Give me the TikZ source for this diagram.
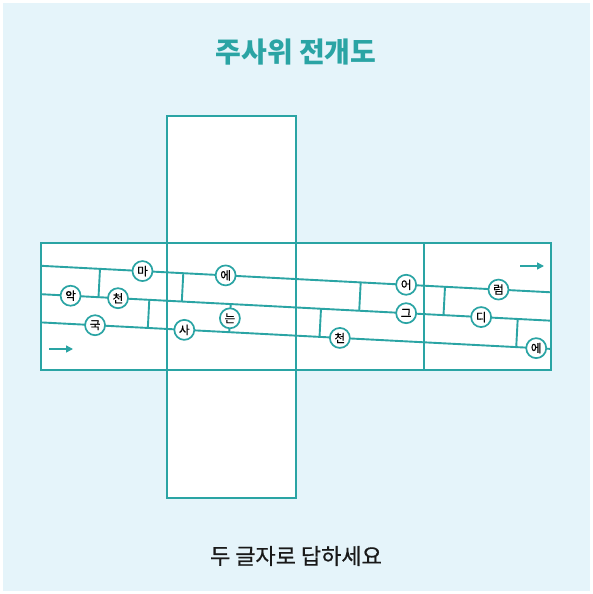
\documentclass[tikz,border=0pt]{standalone}
\usepackage{fontspec}
\newfontfamily\kr{Noto Sans CJK KR}
\newfontfamily\krmid{Noto Sans CJK KR}[FakeBold=0.7]
\usetikzlibrary{arrows.meta}
\definecolor{dicecol}{RGB}{42,164,164}
\definecolor{bgcol}{RGB}{229,244,250}
\tikzset{
  face/.style={draw=dicecol, line width=2pt, fill=white},
  road/.style={draw=dicecol, line width=1.9pt},
  letter/.style={circle, draw=dicecol, line width=1.7pt, fill=white, text=black,
    minimum size=20pt, inner sep=0pt, font=\krmid\fontsize{11.5}{11.5}\selectfont},
  pointer/.style={draw=dicecol, line width=1.5pt, -{Triangle[length=7pt,width=7pt]}}
}
\begin{document}
\begin{tikzpicture}[x=1pt,y=-1pt]
  \fill[white] (0,0) rectangle (593,594);
  \fill[bgcol] (3,3) rectangle (590,591);

  % net of the die
  \draw[face] (167,116) rectangle (296,243);
  \draw[face] (167,370) rectangle (296,498);
  \draw[face] (41,243) rectangle (551,370);
  \foreach \x in {167,296,424}
  {
      \draw[face] (\x,243) -- (\x,370);
  }

  % short walls between the roads
  \foreach \x/\b in {100/265.8,183.3/265.8,360.7/265.8,445/265.8,149.3/294.2,230.7/294.2,321/294.2,517.7/294.2}
  {
      \draw[road] (\x,{\b+0.052*(\x-41)}) -- ++(-1.5,28.5);
  }

  \coordinate (w1) at (41,265.8);
  \coordinate (e1) at (551,292.3);
  \coordinate (w2) at (41,294.2);
  \coordinate (e2) at (551,320.7);
  \coordinate (w3) at (41,322.4);
  \coordinate (e3) at (551,348.9);

  \draw[road] (w1) -- (e1)
    node[letter,pos=.199] (ma) {마}
    node[letter,pos=.362] (e) {에}
    node[letter,pos=.716] (eo) {어}
    node[letter,pos=.897] (reom) {럼};
  \draw[road] (w2) -- (e2)
    node[letter,pos=.058] (ak) {악}
    node[letter,pos=.151] (cheon) {천}
    node[letter,pos=.716] (geu) {그}
    node[letter,pos=.863] (di) {디};
  \draw[road] (w3) -- (e3)
    node[letter,pos=.106] (guk) {국}
    node[letter,pos=.281] (sa) {사}
    node[letter,pos=.586] (cheonb) {천}
    node[letter,pos=.971] (eb) {에};
  \node[letter] (neun) at (229.9,318.3) {는};

  \coordinate (startA) at (49,349);
  \coordinate (endA) at (73,349);
  \coordinate (startB) at (520,266);
  \coordinate (endB) at (544,266);
  \draw[pointer] (startA) -- (endA);
  \draw[pointer] (startB) -- (endB);

  \node[font=\kr\bfseries\fontsize{28}{28}\selectfont, text=dicecol] (title) at (296,52) {주사위 전개도};
  \node[font=\krmid\fontsize{22}{22}\selectfont, text=black!90] (answer) at (296,556) {두 글자로 답하세요};
\end{tikzpicture}
\end{document}
